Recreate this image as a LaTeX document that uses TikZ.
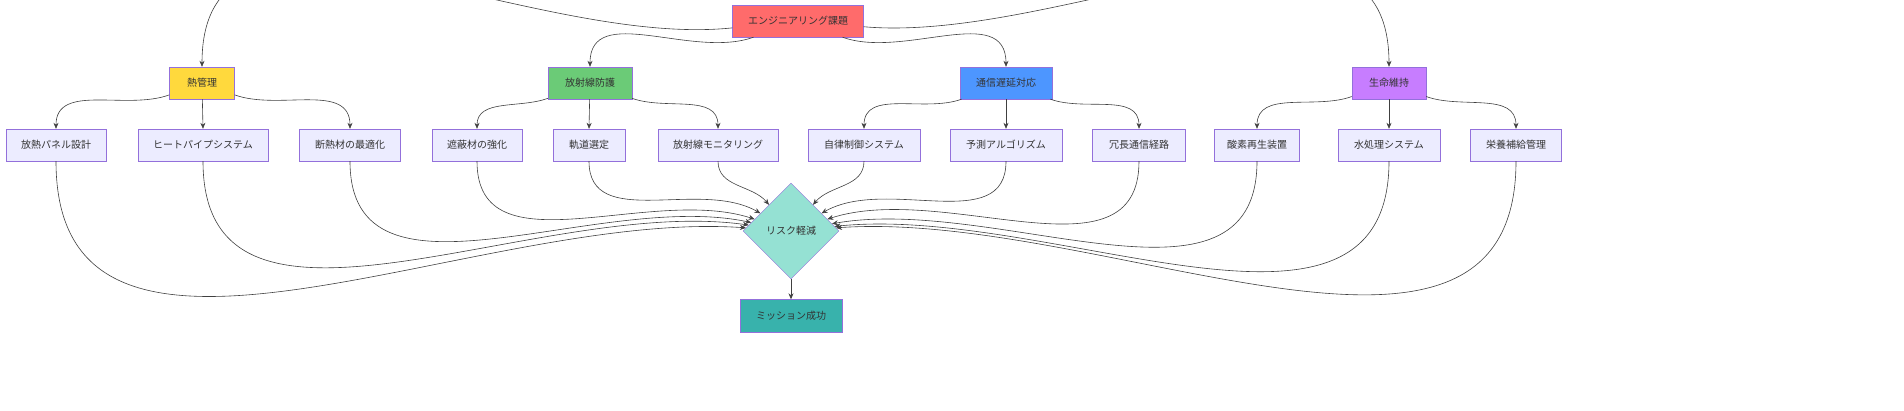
\documentclass[tikz,border=0pt]{standalone}
\usepackage{fontspec}
\setmainfont{Noto Sans CJK JP}
\usetikzlibrary{shapes.geometric,arrows.meta}
\definecolor{boxfill}{HTML}{ECECFF}
\definecolor{boxline}{HTML}{9370DB}
\definecolor{cTop}{HTML}{FF6B6B}
\definecolor{cHeat}{HTML}{FFD93D}
\definecolor{cRad}{HTML}{6BCB77}
\definecolor{cCom}{HTML}{4D96FF}
\definecolor{cLife}{HTML}{C77DFF}
\definecolor{cRisk}{HTML}{95E1D3}
\definecolor{cGoal}{HTML}{38B2AC}
\tikzset{
  box/.style={draw=boxline, fill=boxfill, minimum height=32pt, inner xsep=0pt, font=\fontsize{10}{12}\selectfont, text=black!80},
  arr/.style={draw=black!75, line width=0.6pt, -{Stealth[length=6pt,width=5pt]}},
}
\begin{document}
\begin{tikzpicture}[x=1pt,y=-1pt]
		\useasboundingbox (0,0) rectangle (1904,410);
		% top and groups
		\node[box, fill=cTop, minimum width=131pt] (top) at (798,21) {エンジニアリング課題};
		\node[box, fill=cHeat, minimum width=65pt] (heat) at (202,83) {熱管理};
		\node[box, fill=cRad, minimum width=84pt] (rad) at (590,83) {放射線防護};
		\node[box, fill=cCom, minimum width=92pt] (com) at (1006,83) {通信遅延対応};
		\node[box, fill=cLife, minimum width=74pt] (life) at (1389,83) {生命維持};

		% tasks
		\foreach \n/\x/\w/\t in {a1/56/100/放熱パネル設計, a2/203/130/ヒートパイプシステム, a3/350/101/断熱材の最適化,
			b1/477/90/遮蔽材の強化, b2/589/72/軌道選定, b3/718/120/放射線モニタリング,
			c1/864/112/自律制御システム, c2/1006/112/予測アルゴリズム, c3/1139/93/冗長通信経路,
			d1/1257/85/酸素再生装置, d2/1389/102/水処理システム, d3/1516/91/栄養補給管理}
			\node[box, minimum width=\w pt] (\n) at (\x,145) {\t};

		\node[draw=boxline, fill=cRisk, diamond, minimum size=96pt, inner sep=0pt, font=\fontsize{10}{12}\selectfont, text=black!80] (risk) at (791,231) {リスク軽減};
		\node[box, fill=cGoal, minimum width=102pt, minimum height=33pt] (goal) at (791,316) {ミッション成功};

		% edges
		\draw[arr] (top) to[out=186,in=90] (heat.north);
		\draw[arr] (top) to[out=200,in=90] (rad.north);
		\draw[arr] (top) to[out=-20,in=90] (com.north);
		\draw[arr] (top) to[out=-5,in=90] (life.north);
		\foreach \p/\l/\m/\r in {heat/a1/a2/a3, rad/b1/b2/b3, com/c1/c2/c3, life/d1/d2/d3} {
			\draw[arr] (\p) to[out=200,in=90] (\l.north);
			\draw[arr] (\p) -- (\m.north);
			\draw[arr] (\p) to[out=-20,in=90] (\r.north);
		}
		\foreach \n/\i in {a1/176, a2/172, a3/168, b1/162, b2/150, b3/130} \draw[arr] (\n.south) to[out=-90,in=\i] (risk);
		\foreach \n/\i in {c1/50, c2/30, c3/18, d1/10, d2/6, d3/4} \draw[arr] (\n.south) to[out=-90,in=\i] (risk);
		\draw[arr] (risk) -- (goal);
\end{tikzpicture}
\end{document}
